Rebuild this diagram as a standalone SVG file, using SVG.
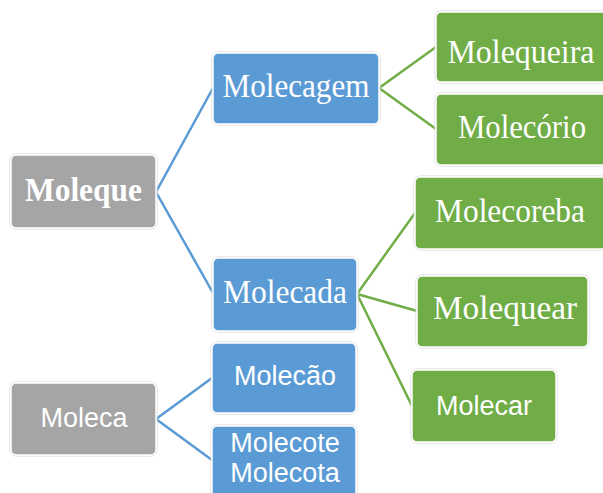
<svg xmlns="http://www.w3.org/2000/svg" width="603" height="493" viewBox="0 0 603 493">
<style>
.bg{fill:#fff}
.edge{fill:none;stroke:#d6d6d6;stroke-width:1}
.gray{fill:#a5a5a5;stroke:#fff;stroke-width:1.5}
.blue{fill:#5b9bd5;stroke:#fff;stroke-width:1.5}
.green{fill:#70ad47;stroke:#fff;stroke-width:1.5}
.serif{font-family:"Liberation Serif","Times New Roman",serif;font-size:33px;fill:#fff;text-anchor:middle}
.bold{font-weight:bold}
.sans{font-family:"Liberation Sans",Arial,sans-serif;font-size:27px;fill:#fff;text-anchor:middle}
.lb{fill:none;stroke:#5b9bd5;stroke-width:2.5}
.lg{fill:none;stroke:#70ad47;stroke-width:2.5}
</style>
<rect class="bg" x="0" y="0" width="603" height="493"/>
<g id="connectors">
<polyline class="lb" points="213,88 156,192 213,293"/>
<polyline class="lg" points="436,47 379,88 436,129"/>
<polyline class="lg" points="415,213 357,294 417,311"/>
<polyline class="lg" points="357,294 412,406"/>
<polyline class="lb" points="212,378 156,419 212,460"/>
</g>
<g id="moleque">
<rect class="edge" x="10" y="154" width="147" height="75" rx="6"/>
<rect class="gray" x="11" y="155" width="145" height="73" rx="5"/>
<text class="serif bold" x="83.5" y="201" textLength="117" lengthAdjust="spacingAndGlyphs">Moleque</text>
</g>
<g id="molecagem">
<rect class="edge" x="212" y="52" width="168" height="73" rx="6"/>
<rect class="blue" x="213" y="53" width="166" height="71" rx="5"/>
<text class="serif" x="296" y="97" textLength="147" lengthAdjust="spacingAndGlyphs">Molecagem</text>
</g>
<g id="molequeira">
<rect class="edge" x="435" y="11" width="172" height="72" rx="6"/>
<rect class="green" x="436" y="12" width="171" height="70" rx="5"/>
<text class="serif" x="521" y="63" textLength="147" lengthAdjust="spacingAndGlyphs">Molequeira</text>
</g>
<g id="molecorio">
<rect class="edge" x="435" y="93" width="172" height="73" rx="6"/>
<rect class="green" x="436" y="94" width="171" height="71" rx="5"/>
<text class="serif" x="522" y="138" textLength="128" lengthAdjust="spacingAndGlyphs">Molecório</text>
</g>
<g id="molecada">
<rect class="edge" x="212" y="257" width="146" height="75" rx="6"/>
<rect class="blue" x="213" y="258" width="144" height="73" rx="5"/>
<text class="serif" x="285" y="303" textLength="124" lengthAdjust="spacingAndGlyphs">Molecada</text>
</g>
<g id="molecoreba">
<rect class="edge" x="414" y="176" width="193" height="74" rx="6"/>
<rect class="green" x="415" y="177" width="192" height="72" rx="5"/>
<text class="serif" x="510" y="222" textLength="150" lengthAdjust="spacingAndGlyphs">Molecoreba</text>
</g>
<g id="molequear">
<rect class="edge" x="416" y="275" width="173" height="73" rx="6"/>
<rect class="green" x="417" y="276" width="171" height="71" rx="5"/>
<text class="serif" x="505" y="319" textLength="144" lengthAdjust="spacingAndGlyphs">Molequear</text>
</g>
<g id="molecar">
<rect class="edge" x="411" y="369" width="146" height="74" rx="6"/>
<rect class="green" x="412" y="370" width="144" height="72" rx="5"/>
<text class="sans" x="484" y="415">Molecar</text>
</g>
<g id="moleca">
<rect class="edge" x="10" y="382" width="147" height="74" rx="6"/>
<rect class="gray" x="11" y="383" width="145" height="72" rx="5"/>
<text class="sans" x="84" y="427">Moleca</text>
</g>
<g id="molecao">
<rect class="edge" x="211" y="342" width="146" height="72" rx="6"/>
<rect class="blue" x="212" y="343" width="144" height="70" rx="5"/>
<text class="sans" x="285" y="385">Molecão</text>
</g>
<g id="molecote">
<rect class="edge" x="211" y="425" width="146" height="75" rx="6"/>
<rect class="blue" x="212" y="426" width="144" height="75" rx="5"/>
<text class="sans" x="285" y="452">Molecote</text>
<text class="sans" x="285" y="482">Molecota</text>
</g>
</svg>
